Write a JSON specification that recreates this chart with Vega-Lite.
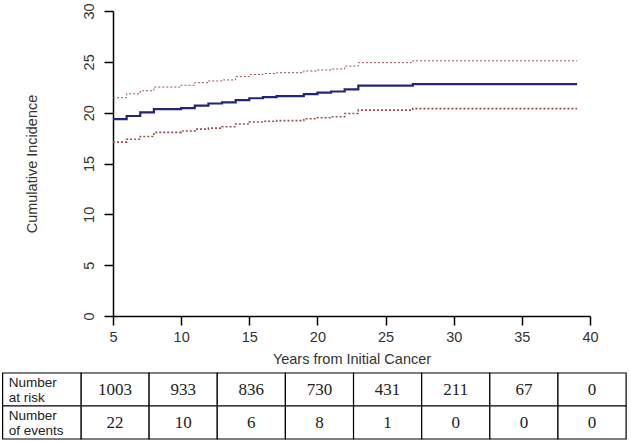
{
  "$schema": "https://vega.github.io/schema/vega-lite/v6.json",
  "padding": {"left": 2, "top": 2, "right": 2, "bottom": 1},
  "background": "white",
  "config": {
    "view": {"stroke": null},
    "font": "Liberation Sans",
    "concat": {"spacing": 6}
  },
  "vconcat": [
    {
      "width": 477,
      "height": 305,
      "data": {
        "values": [
          {"year": 5, "est": 19.37, "lo": 17.10, "hi": 21.47},
          {"year": 6, "est": 19.67, "lo": 17.38, "hi": 21.85},
          {"year": 7, "est": 20.02, "lo": 17.66, "hi": 22.15},
          {"year": 8, "est": 20.35, "lo": 18.06, "hi": 22.52},
          {"year": 10, "est": 20.45, "lo": 18.20, "hi": 22.70},
          {"year": 11, "est": 20.70, "lo": 18.38, "hi": 22.95},
          {"year": 12, "est": 20.90, "lo": 18.48, "hi": 23.12},
          {"year": 13, "est": 21.02, "lo": 18.62, "hi": 23.22},
          {"year": 14, "est": 21.24, "lo": 18.88, "hi": 23.55},
          {"year": 15, "est": 21.42, "lo": 19.08, "hi": 23.75},
          {"year": 16, "est": 21.52, "lo": 19.15, "hi": 23.85},
          {"year": 17, "est": 21.62, "lo": 19.22, "hi": 23.93},
          {"year": 19, "est": 21.83, "lo": 19.40, "hi": 24.10},
          {"year": 20, "est": 21.98, "lo": 19.50, "hi": 24.20},
          {"year": 21, "est": 22.08, "lo": 19.60, "hi": 24.30},
          {"year": 22, "est": 22.30, "lo": 19.92, "hi": 24.58},
          {"year": 23, "est": 22.66, "lo": 20.25, "hi": 24.92},
          {"year": 27, "est": 22.81, "lo": 20.40, "hi": 25.10},
          {"year": 39.05, "est": 22.81, "lo": 20.40, "hi": 25.10}
        ]
      },
      "transform": [{"fold": ["hi", "lo", "est"], "as": ["series", "value"]}],
      "mark": {"type": "line", "interpolate": "step-after"},
      "encoding": {
        "x": {
          "field": "year",
          "type": "quantitative",
          "scale": {"domain": [5, 40], "nice": false, "zero": false},
          "axis": {
            "values": [5, 10, 15, 20, 25, 30, 35, 40],
            "title": "Years from Initial Cancer",
            "grid": false,
            "tickSize": 9,
            "labelPadding": 5,
            "labelFlush": false,
            "labelOverlap": false,
            "domainColor": "black",
            "tickColor": "black",
            "domainWidth": 1.5,
            "tickWidth": 1.5,
            "labelFontSize": 14.5,
            "titleFontSize": 14.5,
            "titleFontWeight": "normal",
            "labelColor": "#333",
            "titleColor": "#333",
            "titlePadding": 9
          }
        },
        "y": {
          "field": "value",
          "type": "quantitative",
          "scale": {"domain": [0, 30], "nice": false, "zero": false},
          "axis": {
            "values": [0, 5, 10, 15, 20, 25, 30],
            "title": "Cumulative Incidence",
            "grid": false,
            "labelAngle": 270,
            "labelAlign": "center",
            "labelBaseline": "bottom",
            "tickSize": 9,
            "labelPadding": 8,
            "labelOverlap": false,
            "domainColor": "black",
            "tickColor": "black",
            "domainWidth": 1.5,
            "tickWidth": 1.5,
            "labelFontSize": 14.5,
            "titleFontSize": 14.5,
            "titleFontWeight": "normal",
            "labelColor": "#333",
            "titleColor": "#333",
            "titlePadding": 42
          }
        },
        "color": {
          "field": "series",
          "type": "nominal",
          "scale": {"domain": ["est", "lo", "hi"], "range": ["#24247a", "#9a5050", "#9a5050"]},
          "legend": null
        },
        "strokeDash": {
          "field": "series",
          "type": "nominal",
          "scale": {"domain": ["est", "lo", "hi"], "range": [[1, 0], [2, 2], [2, 2]]},
          "legend": null
        },
        "strokeWidth": {
          "field": "series",
          "type": "nominal",
          "scale": {"domain": ["est", "lo", "hi"], "range": [2.2, 1, 1]},
          "legend": null
        }
      }
    },
    {
      "width": 477,
      "height": 66,
      "layer": [
        {
          "data": {
            "values": [
              {"row": "risk", "year": 5, "n": 1003},
              {"row": "risk", "year": 10, "n": 933},
              {"row": "risk", "year": 15, "n": 836},
              {"row": "risk", "year": 20, "n": 730},
              {"row": "risk", "year": 25, "n": 431},
              {"row": "risk", "year": 30, "n": 211},
              {"row": "risk", "year": 35, "n": 67},
              {"row": "risk", "year": 40, "n": 0},
              {"row": "events", "year": 5, "n": 22},
              {"row": "events", "year": 10, "n": 10},
              {"row": "events", "year": 15, "n": 6},
              {"row": "events", "year": 20, "n": 8},
              {"row": "events", "year": 25, "n": 1},
              {"row": "events", "year": 30, "n": 0},
              {"row": "events", "year": 35, "n": 0},
              {"row": "events", "year": 40, "n": 0}
            ]
          },
          "transform": [
            {"calculate": "datum.year - 2.35", "as": "x1"},
            {"calculate": "datum.year + 2.65", "as": "x2"},
            {"calculate": "datum.year + 0.15", "as": "xc"}
          ],
          "layer": [
            {
              "mark": {"type": "rect", "fill": "white", "stroke": "black", "strokeWidth": 1.2},
              "encoding": {
                "x": {"field": "x1", "type": "quantitative", "scale": {"domain": [5, 40], "nice": false, "zero": false}, "axis": null},
                "x2": {"field": "x2"},
                "y": {"field": "row", "type": "nominal", "scale": {"domain": ["risk", "events"], "paddingInner": 0, "paddingOuter": 0}, "axis": null}
              }
            },
            {
              "mark": {"type": "text", "font": "Liberation Serif", "fontSize": 17, "color": "#222", "align": "center", "baseline": "middle"},
              "encoding": {
                "x": {"field": "xc", "type": "quantitative"},
                "y": {"field": "row", "type": "nominal"},
                "text": {"field": "n", "type": "quantitative"}
              }
            }
          ]
        },
        {
          "data": {
            "values": [
              {"row": "risk", "label": "Number\nat risk"},
              {"row": "events", "label": "Number\nof events"}
            ]
          },
          "transform": [
            {"calculate": "-3.1", "as": "x1"},
            {"calculate": "2.65", "as": "x2"},
            {"calculate": "-2.65", "as": "xt"}
          ],
          "layer": [
            {
              "mark": {"type": "rect", "fill": "white", "stroke": "black", "strokeWidth": 1.2},
              "encoding": {
                "x": {"field": "x1", "type": "quantitative"},
                "x2": {"field": "x2"},
                "y": {"field": "row", "type": "nominal"}
              }
            },
            {
              "mark": {"type": "text", "font": "Liberation Sans", "fontSize": 13.5, "color": "#222", "align": "left", "baseline": "middle", "lineBreak": "\n", "lineHeight": 15, "dy": -7},
              "encoding": {
                "x": {"field": "xt", "type": "quantitative"},
                "y": {"field": "row", "type": "nominal"},
                "text": {"field": "label", "type": "nominal"}
              }
            }
          ]
        }
      ]
    }
  ]
}
